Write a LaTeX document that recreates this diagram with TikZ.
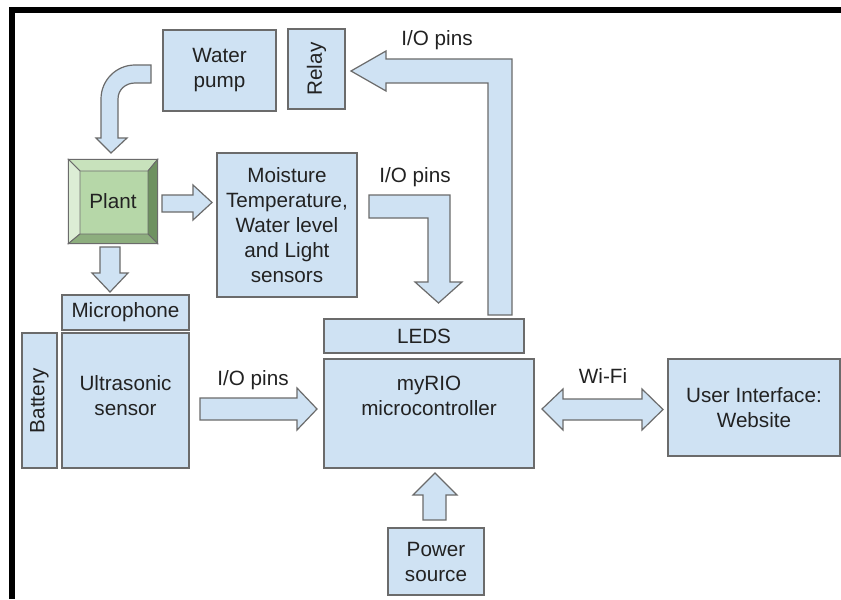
\documentclass[tikz,border=0pt]{standalone}
\usepackage{fontspec}
\setmainfont{Liberation Sans}
\definecolor{boxfill}{HTML}{CFE2F3}
\definecolor{boxline}{HTML}{6B6B6B}
\definecolor{txt}{HTML}{222222}
\definecolor{plantface}{HTML}{B6D7A8}
\definecolor{planttop}{HTML}{C8E2BC}
\definecolor{plantleft}{HTML}{DCEDD5}
\definecolor{plantright}{HTML}{6E9160}
\definecolor{plantbottom}{HTML}{8DAE7E}
\begin{document}
\begin{tikzpicture}[x=0.75pt,y=-0.75pt,
  box/.style={draw=boxline, fill=boxfill, line width=0.9pt, align=center, inner sep=0pt,
    font=\fontsize{15.5}{18.75}\selectfont, text=txt},
  wh/.style 2 args={minimum width=#1*0.75pt, minimum height=#2*0.75pt},
  barrow/.style={draw=boxline, fill=boxfill, line width=0.9pt, line join=miter},
  bevel/.style={draw=boxline, line width=0.7pt, line join=miter},
  lbl/.style={font=\fontsize{15.5}{18.75}\selectfont, text=txt, inner sep=0pt, align=center}]

\useasboundingbox (0,0) rectangle (841,599);
\fill[white] (0,0) rectangle (841,599);
\fill[black] (9,7) rectangle (841,13);
\fill[black] (9,7) rectangle (15,599);

% boxes
\node[box, wh={113}{81}] (pump) at (219.5,70.5) {Water\\pump};
\node[box, wh={57}{80}] (relay) at (316.5,69) {\rotatebox{90}{Relay}};
\node[box, wh={140}{144}] (moist) at (287,225)
  {Moisture\\Temperature,\\Water level\\and Light\\sensors};
\node[box, wh={127}{35}] (mic) at (125.5,312.5) {Microphone};
\node[box, wh={127}{135}] (ultra) at (125.5,400.5) {};
\node[lbl] (ultratxt) at (125.5,396) {Ultrasonic\\sensor};
\node[box, wh={35}{135}] (battery) at (39.5,400.5) {\rotatebox{90}{Battery}};
\node[box, wh={200}{34}] (leds) at (424,336) {LEDS};
\node[box, wh={210}{109}] (myrio) at (429,413.5) {};
\node[lbl] (myriotxt) at (429,396) {myRIO\\microcontroller};
\node[box, wh={96}{67}] (power) at (436,561.5) {Power\\source};
\node[box, wh={172}{97}] (ui) at (754,407.5) {User Interface:\\Website};

% plant (bevelled button)
\node[box, fill=plantface, wh={88}{83}] (plant) at (113,201.5) {};
\filldraw[bevel, fill=planttop] (plant.north west) -- (plant.north east) -- (148,171) -- (80,171) -- cycle;
\filldraw[bevel, fill=plantleft] (plant.north west) -- (80,171) -- (80,234) -- (plant.south west) -- cycle;
\filldraw[bevel, fill=plantright] (plant.north east) -- (plant.south east) -- (148,234) -- (148,171) -- cycle;
\filldraw[bevel, fill=plantbottom] (plant.south west) -- (plant.south east) -- (148,234) -- (80,234) -- cycle;
\draw[boxline, line width=0.9pt] (plant.north west) rectangle (plant.south east);
\node[lbl] (planttxt) at (113,201.5) {Plant};

% block arrows
% water pump -> plant (curved)
\filldraw[barrow] (151,65) -- (135,65) .. controls (116.2,65) and (101,80.2) .. (101,99)
  -- (101,138) -- (96,138) -- (111,153) -- (127,138) -- (118,138) -- (118,99)
  .. controls (118,89.6) and (125.6,83) .. (135,83) -- (151,83) -- cycle;
% plant -> moisture sensors
\filldraw[barrow] (162,195) -- (193,195) -- (193,185) -- (212,202.5) -- (193,220) -- (193,212) -- (162,212) -- cycle;
% plant -> microphone
\filldraw[barrow] (100,247) -- (120,247) -- (120,273) -- (128,273) -- (110,292) -- (92,273) -- (100,273) -- cycle;
% ultrasonic -> myRIO
\filldraw[barrow] (200,398) -- (297,398) -- (297,388) -- (317,409) -- (297,430) -- (297,420) -- (200,420) -- cycle;
% moisture -> LEDS (L-shaped)
\filldraw[barrow] (369,195) -- (450,195) -- (450,282) -- (462,282) -- (438.5,303) -- (415,282)
  -- (428,282) -- (428,218) -- (369,218) -- cycle;
% LEDS -> relay (L-shaped)
\filldraw[barrow] (488,315) -- (488,83) -- (386,83) -- (386,91) -- (351,71) -- (386,51)
  -- (386,59) -- (512,59) -- (512,315) -- cycle;
% power -> myRIO
\filldraw[barrow] (423,520) -- (423,495) -- (413,495) -- (435,473) -- (457,495) -- (446,495) -- (446,520) -- cycle;
% myRIO <-> UI
\filldraw[barrow] (542,409) -- (563,389) -- (563,399) -- (642,399) -- (642,389) -- (663,409.5)
  -- (642,430) -- (642,420) -- (563,420) -- (563,430) -- cycle;

% labels
\node[lbl] (io1) at (437,40) {I/O pins};
\node[lbl] (io2) at (415,177) {I/O pins};
\node[lbl] (io3) at (253,380) {I/O pins};
\node[lbl] (wifi) at (603,376) {Wi-Fi};
\end{tikzpicture}
\end{document}
